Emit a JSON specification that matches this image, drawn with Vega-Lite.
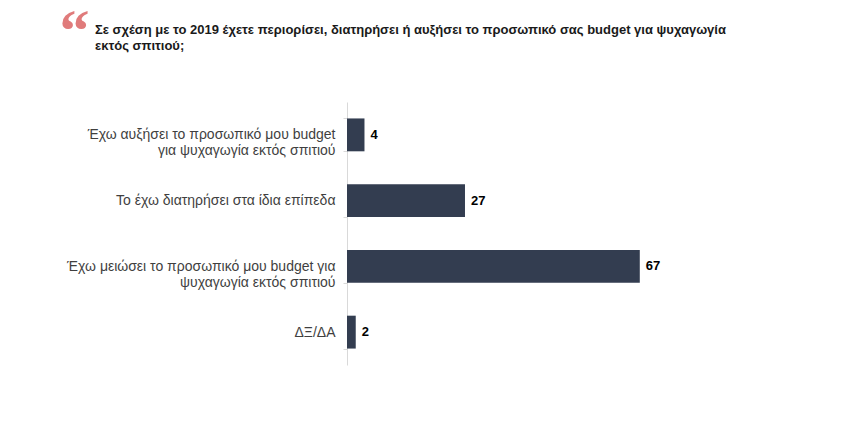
{
  "$schema": "https://vega.github.io/schema/vega-lite/v6.json",
  "width": 437,
  "height": 263,
  "autosize": "none",
  "padding": {"left": 347, "top": 102, "right": 81, "bottom": 78},
  "background": "white",
  "config": {"view": {"stroke": null}},
  "title": {
    "text": [
      "Σε σχέση με το 2019 έχετε περιορίσει, διατηρήσει ή αυξήσει το προσωπικό σας  budget για ψυχαγωγία",
      "εκτός σπιτιού;"
    ],
    "font": "Liberation Sans",
    "fontWeight": "bold",
    "fontSize": 13,
    "lineHeight": 16,
    "color": "#1a1a1a",
    "anchor": "start",
    "frame": "group",
    "dx": -252,
    "offset": -51
  },
  "data": {
    "values": [
      {"answer": "Έχω αυξήσει το προσωπικό μου budget|για ψυχαγωγία εκτός σπιτιού", "pct": 4},
      {"answer": "Το έχω διατηρήσει στα ίδια επίπεδα", "pct": 27},
      {"answer": "Έχω μειώσει το προσωπικό μου budget για|ψυχαγωγία εκτός σπιτιού", "pct": 67},
      {"answer": "ΔΞ/ΔΑ", "pct": 2}
    ]
  },
  "encoding": {
    "y": {
      "field": "answer",
      "type": "nominal",
      "sort": null,
      "scale": {"paddingInner": 0.5, "paddingOuter": 0.25},
      "axis": {
        "title": "“",
        "titleAngle": 0,
        "titleX": -288,
        "titleY": -99,
        "titleAlign": "left",
        "titleBaseline": "top",
        "titleFont": "Liberation Serif",
        "titleFontWeight": "bold",
        "titleFontSize": 60,
        "titleColor": "#e07b7b",
        "domainColor": "#d9d9d9",
        "tickColor": "#d9d9d9",
        "tickSize": 4,
        "tickBand": "extent",
        "labelPadding": 8,
        "labelFont": "Liberation Sans",
        "labelFontSize": 14,
        "labelColor": "#3f3f3f",
        "labelLimit": 0,
        "labelLineHeight": 16,
        "labelExpr": "split(datum.label, '|')"
      }
    },
    "x": {
      "field": "pct",
      "type": "quantitative",
      "scale": {"domain": [0, 100]},
      "axis": null
    }
  },
  "layer": [
    {"mark": {"type": "bar", "color": "#333d50"}},
    {
      "mark": {"type": "text", "align": "left", "dx": 6, "font": "Liberation Sans", "fontWeight": "bold", "fontSize": 13, "color": "#000000"},
      "encoding": {"text": {"field": "pct", "type": "quantitative"}}
    }
  ]
}
